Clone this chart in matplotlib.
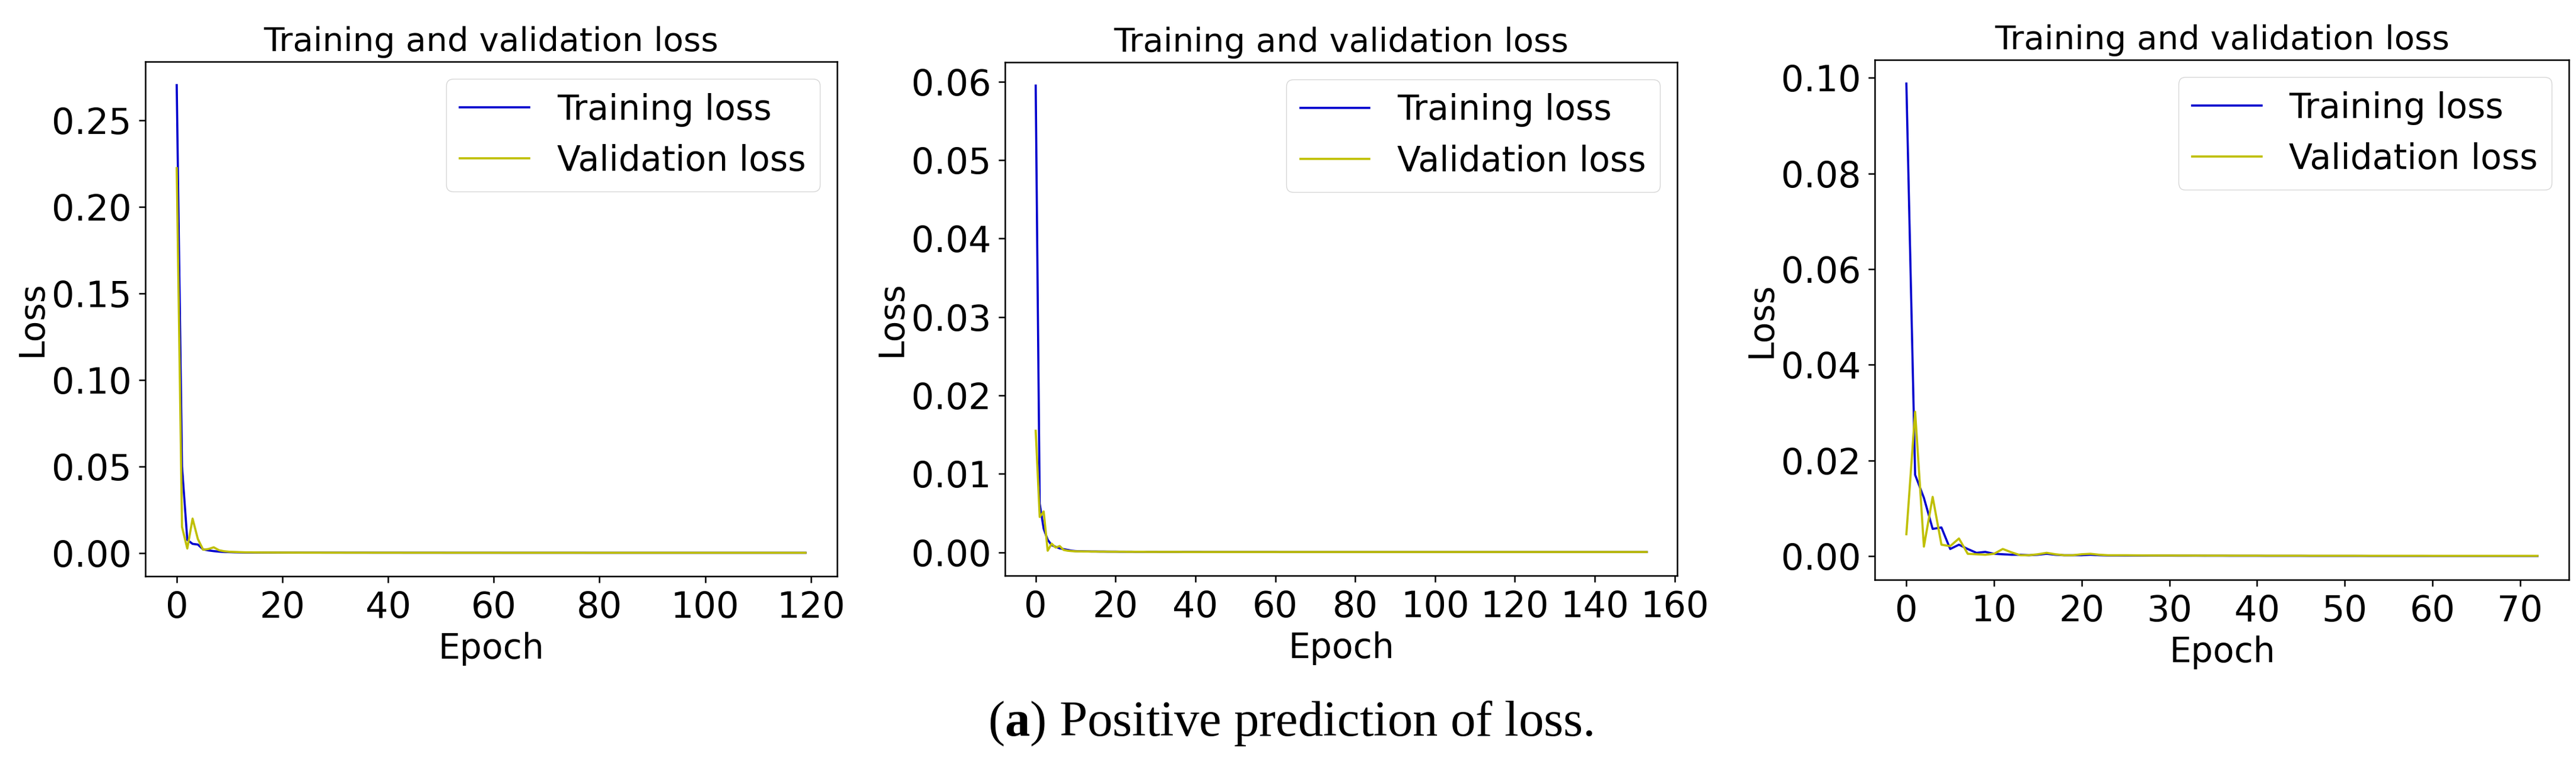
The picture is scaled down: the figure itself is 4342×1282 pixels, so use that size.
import matplotlib
matplotlib.use("Agg")
import matplotlib.pyplot as plt

# ---- data ----
# panel 1: 120 epochs (0..119)
train_loss_1 = [
    0.2705, 0.0500, 0.0075, 0.0052, 0.0048, 0.0020, 0.0014, 0.0010, 0.0007, 0.0005,
    0.0004, 0.0003, 0.00025, 0.0002, 0.0002, 0.00018, 0.00016, 0.00015, 0.00014, 0.00013,
    0.00012, 0.00012, 0.00011, 0.00011, 0.0001, 0.0001, 0.0001, 0.0001, 0.00009, 0.00009,
    0.00009, 0.00009, 0.00008, 0.00008, 0.00008, 0.00008, 0.00008, 0.00007, 0.00007, 0.00007,
    0.00007, 0.00007, 0.00007, 0.00006, 0.00006, 0.00006, 0.00006, 0.00006, 0.00006, 0.00006,
    0.00006, 0.00005, 0.00005, 0.00005, 0.00005, 0.00005, 0.00005, 0.00005, 0.00005, 0.00005,
    0.00005, 0.00005, 0.00004, 0.00004, 0.00004, 0.00004, 0.00004, 0.00004, 0.00004, 0.00004,
    0.00004, 0.00004, 0.00004, 0.00004, 0.00004, 0.00004, 0.00004, 0.00004, 0.00003, 0.00003,
    0.00003, 0.00003, 0.00003, 0.00003, 0.00003, 0.00003, 0.00003, 0.00003, 0.00003, 0.00003,
    0.00003, 0.00003, 0.00003, 0.00003, 0.00003, 0.00003, 0.00003, 0.00003, 0.00003, 0.00003,
    0.00003, 0.00003, 0.00003, 0.00003, 0.00003, 0.00003, 0.00003, 0.00003, 0.00003, 0.00003,
    0.00003, 0.00003, 0.00003, 0.00003, 0.00003, 0.00003, 0.00003, 0.00003, 0.00003, 0.00003,
]
val_loss_1 = [
    0.2225, 0.0150, 0.0025, 0.0198, 0.0080, 0.0018, 0.0022, 0.0032, 0.0015, 0.0009,
    0.0006, 0.0005, 0.0004, 0.0003, 0.0003, 0.00025, 0.00022, 0.0002, 0.0002, 0.00018,
    0.00017, 0.00016, 0.00015, 0.00014, 0.00013, 0.00013, 0.00012, 0.00012, 0.00011, 0.00011,
    0.0001, 0.0001, 0.0001, 0.0001, 0.00009, 0.00009, 0.00009, 0.00009, 0.00008, 0.00008,
    0.00008, 0.00008, 0.00008, 0.00007, 0.00007, 0.00007, 0.00007, 0.00007, 0.00007, 0.00007,
    0.00006, 0.00006, 0.00006, 0.00006, 0.00006, 0.00006, 0.00006, 0.00006, 0.00006, 0.00006,
    0.00005, 0.00005, 0.00005, 0.00005, 0.00005, 0.00005, 0.00005, 0.00005, 0.00005, 0.00005,
    0.00005, 0.00005, 0.00005, 0.00005, 0.00005, 0.00005, 0.00004, 0.00004, 0.00004, 0.00004,
    0.00004, 0.00004, 0.00004, 0.00004, 0.00004, 0.00004, 0.00004, 0.00004, 0.00004, 0.00004,
    0.00004, 0.00004, 0.00004, 0.00004, 0.00004, 0.00004, 0.00004, 0.00004, 0.00004, 0.00004,
    0.00004, 0.00004, 0.00004, 0.00004, 0.00004, 0.00004, 0.00004, 0.00004, 0.00004, 0.00004,
    0.00004, 0.00004, 0.00004, 0.00004, 0.00004, 0.00004, 0.00004, 0.00004, 0.00004, 0.00004,
]

# panel 2: 154 epochs (0..153)
train_loss_2 = [
    0.0595, 0.0062, 0.0030, 0.0016, 0.0009, 0.0007, 0.0005, 0.0004, 0.0003, 0.0002,
    0.00015, 0.00013, 0.00012, 0.00011, 0.0001, 0.0001, 0.00009, 0.00009, 0.00008, 0.00008,
    0.00008, 0.00007, 0.00007, 0.00007, 0.00007, 0.00006, 0.00006, 0.00006, 0.00006, 0.00006,
    0.00006, 0.00005, 0.00005, 0.00005, 0.00005, 0.00005, 0.00005, 0.00005, 0.00005, 0.00005,
    0.00005, 0.00005, 0.00004, 0.00004, 0.00004, 0.00004, 0.00004, 0.00004, 0.00004, 0.00004,
    0.00004, 0.00004, 0.00004, 0.00004, 0.00004, 0.00004, 0.00004, 0.00004, 0.00004, 0.00004,
    0.00004, 0.00003, 0.00003, 0.00003, 0.00003, 0.00003, 0.00003, 0.00003, 0.00003, 0.00003,
    0.00003, 0.00003, 0.00003, 0.00003, 0.00003, 0.00003, 0.00003, 0.00003, 0.00003, 0.00003,
    0.00003, 0.00003, 0.00003, 0.00003, 0.00003, 0.00003, 0.00003, 0.00003, 0.00003, 0.00003,
    0.00003, 0.00003, 0.00003, 0.00003, 0.00003, 0.00003, 0.00003, 0.00003, 0.00003, 0.00003,
    0.00003, 0.00003, 0.00003, 0.00003, 0.00003, 0.00003, 0.00003, 0.00003, 0.00003, 0.00003,
    0.00003, 0.00003, 0.00003, 0.00003, 0.00003, 0.00003, 0.00003, 0.00003, 0.00003, 0.00003,
    0.00003, 0.00003, 0.00003, 0.00003, 0.00003, 0.00003, 0.00003, 0.00003, 0.00003, 0.00003,
    0.00003, 0.00003, 0.00003, 0.00003, 0.00003, 0.00003, 0.00003, 0.00003, 0.00003, 0.00003,
    0.00003, 0.00003, 0.00003, 0.00003, 0.00003, 0.00003, 0.00003, 0.00003, 0.00003, 0.00003,
    0.00003, 0.00003, 0.00003, 0.00003,
]
val_loss_2 = [
    0.0155, 0.0045, 0.0052, 0.0002, 0.0011, 0.0006, 0.0008, 0.0003, 0.0002, 0.00015,
    0.00012, 0.00011, 0.0001, 0.0001, 0.00009, 0.00009, 0.00008, 0.00008, 0.00008, 0.00007,
    0.00007, 0.00007, 0.00007, 0.00006, 0.00006, 0.00006, 0.00006, 0.00006, 0.00005, 0.00005,
    0.00005, 0.00005, 0.00005, 0.00005, 0.00005, 0.00005, 0.00005, 0.00004, 0.00004, 0.00004,
    0.00004, 0.00004, 0.00004, 0.00004, 0.00004, 0.00004, 0.00004, 0.00004, 0.00004, 0.00004,
    0.00004, 0.00004, 0.00004, 0.00004, 0.00004, 0.00004, 0.00004, 0.00004, 0.00004, 0.00004,
    0.00004, 0.00004, 0.00004, 0.00004, 0.00004, 0.00004, 0.00004, 0.00004, 0.00004, 0.00004,
    0.00004, 0.00004, 0.00004, 0.00004, 0.00004, 0.00004, 0.00004, 0.00004, 0.00004, 0.00004,
    0.00004, 0.00004, 0.00004, 0.00004, 0.00004, 0.00004, 0.00004, 0.00004, 0.00004, 0.00004,
    0.00004, 0.00004, 0.00004, 0.00004, 0.00004, 0.00004, 0.00004, 0.00004, 0.00004, 0.00004,
    0.00004, 0.00004, 0.00004, 0.00004, 0.00004, 0.00004, 0.00004, 0.00004, 0.00004, 0.00004,
    0.00004, 0.00004, 0.00004, 0.00004, 0.00004, 0.00004, 0.00004, 0.00004, 0.00004, 0.00004,
    0.00004, 0.00004, 0.00004, 0.00004, 0.00004, 0.00004, 0.00004, 0.00004, 0.00004, 0.00004,
    0.00004, 0.00004, 0.00004, 0.00004, 0.00004, 0.00004, 0.00004, 0.00004, 0.00004, 0.00004,
    0.00004, 0.00004, 0.00004, 0.00004, 0.00004, 0.00004, 0.00004, 0.00004, 0.00004, 0.00004,
    0.00004, 0.00004, 0.00004, 0.00004,
]

# panel 3: 73 epochs (0..72)
train_loss_3 = [
    0.0988, 0.0170, 0.0122, 0.0057, 0.0060, 0.0015, 0.0024, 0.0015, 0.0007, 0.0009,
    0.0005, 0.0004, 0.0003, 0.0003, 0.0002, 0.0003, 0.0005, 0.0003, 0.0002, 0.0002,
    0.0002, 0.0003, 0.0002, 0.00015, 0.00015, 0.00014, 0.00013, 0.00012, 0.00012, 0.00011,
    0.00011, 0.0001, 0.0001, 0.0001, 0.00009, 0.00009, 0.00009, 0.00008, 0.00008, 0.00008,
    0.00008, 0.00007, 0.00007, 0.00007, 0.00007, 0.00007, 0.00006, 0.00006, 0.00006, 0.00006,
    0.00006, 0.00006, 0.00006, 0.00005, 0.00005, 0.00005, 0.00005, 0.00005, 0.00005, 0.00005,
    0.00005, 0.00005, 0.00005, 0.00005, 0.00005, 0.00005, 0.00005, 0.00005, 0.00005, 0.00005,
    0.00005, 0.00005, 0.00005,
]
val_loss_3 = [
    0.0046, 0.0302, 0.0020, 0.0124, 0.0024, 0.0021, 0.0037, 0.0005, 0.0004, 0.0003,
    0.0005, 0.0015, 0.0008, 0.0002, 0.0002, 0.0004, 0.0007, 0.0004, 0.0002, 0.0002,
    0.0004, 0.0005, 0.0003, 0.0002, 0.0002, 0.0002, 0.00018, 0.00017, 0.00016, 0.00015,
    0.00015, 0.00014, 0.00014, 0.00013, 0.00013, 0.00012, 0.00012, 0.00012, 0.00011, 0.00011,
    0.00011, 0.0001, 0.0001, 0.0001, 0.0001, 0.0001, 0.00009, 0.00009, 0.00009, 0.00009,
    0.00009, 0.00009, 0.00008, 0.00008, 0.00008, 0.00008, 0.00008, 0.00008, 0.00008, 0.00008,
    0.00007, 0.00007, 0.00007, 0.00007, 0.00007, 0.00007, 0.00007, 0.00007, 0.00007, 0.00007,
    0.00007, 0.00007, 0.00007,
]

panels = [
    (train_loss_1, val_loss_1, [0.00, 0.05, 0.10, 0.15, 0.20, 0.25], list(range(0, 121, 20))),
    (train_loss_2, val_loss_2, [0.00, 0.01, 0.02, 0.03, 0.04, 0.05, 0.06], list(range(0, 161, 20))),
    (train_loss_3, val_loss_3, [0.00, 0.02, 0.04, 0.06, 0.08, 0.10], list(range(0, 71, 10))),
]

# axes boxes in figure fractions (left, bottom, width, height)
boxes = [
    (0.0564, 0.2418, 0.2685, 0.6770),
    (0.3902, 0.2426, 0.2609, 0.6755),
    (0.7278, 0.2371, 0.2695, 0.6840),
]

plt.rcParams.update({
    "font.family": "DejaVu Sans",
    "font.size": 42,
    "axes.titlesize": 40.5,
    "axes.labelsize": 42,
    "xtick.labelsize": 43.5,
    "ytick.labelsize": 43.5,
    "axes.linewidth": 1.8,
    "xtick.major.size": 8,
    "ytick.major.size": 8,
    "xtick.major.width": 1.8,
    "ytick.major.width": 1.8,
    "xtick.major.pad": 9,
    "ytick.major.pad": 9,
    "legend.fontsize": 42,
    "mathtext.fontset": "custom",
    "mathtext.rm": "Liberation Serif",
    "mathtext.bf": "Liberation Serif:bold",
})

fig = plt.figure(figsize=(43.42, 12.82), dpi=100)

for (train, val, yticks, xticks), box in zip(panels, boxes):
    ax = fig.add_axes(box)
    epochs = list(range(len(train)))
    ax.plot(epochs, train, color="mediumblue", linewidth=2.6, label="Training loss")
    ax.plot(epochs, val, color="y", linewidth=2.6, label="Validation loss")
    ax.set_title("Training and validation loss", pad=13)
    ax.set_xlabel("Epoch", labelpad=8)
    ax.set_ylabel("Loss", labelpad=3)
    ax.set_yticks(yticks)
    ax.set_xticks(xticks)
    top = max(max(train), max(val))
    ax.set_ylim(-0.05 * top, 1.05 * top)
    ax.set_xlim(-0.05 * (len(train) - 1), 1.05 * (len(train) - 1))
    ax.legend(loc="upper right")

# caption under the panels
fig.text(2175 / 4342, 1 - 1241 / 1282, r"($\mathbf{a}$) Positive prediction of loss.",
         fontfamily="Liberation Serif", fontsize=61, ha="center", va="baseline")

fig.savefig("out.png", dpi=100)
